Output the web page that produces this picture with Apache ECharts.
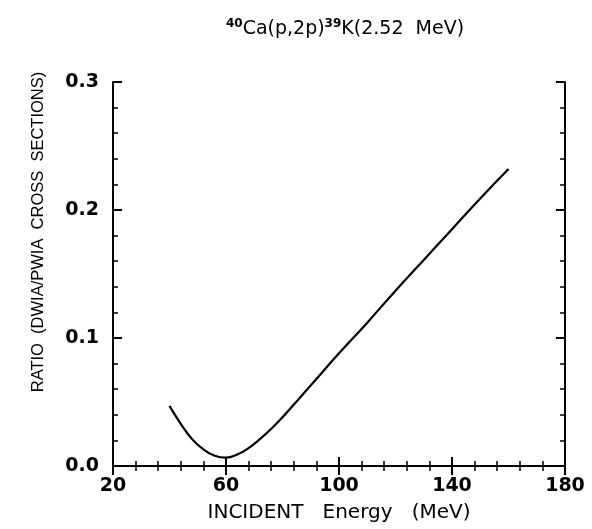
<!DOCTYPE html>
<html>
<head>
<meta charset="utf-8">
<script src="https://cdn.jsdelivr.net/npm/echarts@6/dist/echarts.min.js"></script>
<style>html,body{margin:0;padding:0;background:#fff}#c{width:592px;height:529px}</style>
</head>
<body>
<div id="c"></div>
<script>
const energy = [40, 44, 48, 52, 56, 60, 64, 68, 72, 76, 80, 86, 90, 100, 110, 120, 130, 140, 150, 160];
const ratio  = [0.047, 0.033, 0.021, 0.013, 0.008, 0.0065, 0.009, 0.014, 0.021, 0.029, 0.038, 0.053, 0.063, 0.088, 0.112, 0.137, 0.161, 0.185, 0.209, 0.232];
const xTicks = [20, 60, 100, 140, 180];
const yTicks = ['0.0', '0.1', '0.2', '0.3'];

const chart = echarts.init(document.getElementById('c'));
const axisLine = { show: true, lineStyle: { color: '#000', width: 2 } };
const tickFont = { color: '#000', fontSize: 19, fontWeight: 'bold', fontFamily: 'DejaVu Sans, sans-serif' };

const xBase = {
  type: 'value', min: 20, max: 180, interval: 40,
  axisLine: axisLine,
  axisTick: { show: true, inside: true, length: 9, lineStyle: { color: '#000', width: 2 } },
  minorTick: { show: true, splitNumber: 5, length: 5, lineStyle: { color: '#000', width: 1.5 } },
  splitLine: { show: false }
};
const yBase = {
  type: 'value', min: 0, max: 0.3, interval: 0.1,
  axisLine: axisLine,
  axisTick: { show: true, inside: true, length: 9, lineStyle: { color: '#000', width: 2 } },
  minorTick: { show: true, splitNumber: 5, length: 5, lineStyle: { color: '#000', width: 1.5 } },
  splitLine: { show: false }
};

chart.setOption({
  animation: false,
  backgroundColor: '#fff',
  title: {
    text: '{sup|40}{t|Ca(p,2p)}{sup|39}{t|K(2.52  MeV)}',
    left: 340, top: 10, textAlign: 'center',
    textStyle: {
      rich: {
        t: { fontSize: 19, fontWeight: 'normal', color: '#000', fontFamily: 'DejaVu Sans, sans-serif', verticalAlign: 'bottom', lineHeight: 24 },
        sup: { fontSize: 12, fontWeight: 'bold', color: '#000', fontFamily: 'DejaVu Sans, sans-serif', verticalAlign: 'top', lineHeight: 24, padding: [3, 0, 0, 0] }
      }
    }
  },
  grid: { left: 113, right: 27, top: 82, bottom: 63, containLabel: false, outerBoundsMode: 'none' },
  xAxis: [
    Object.assign({}, xBase, {
      position: 'bottom',
      name: 'INCIDENT   Energy   (MeV)', nameLocation: 'middle', nameGap: 37,
      nameTextStyle: { color: '#000', fontSize: 20, fontFamily: 'DejaVu Sans, sans-serif' },
      axisLabel: Object.assign({ margin: 11, formatter: v => xTicks.includes(v) ? String(v) : '' }, tickFont)
    }),
    Object.assign({}, xBase, { position: 'top', axisLabel: { show: false } })
  ],
  yAxis: [
    Object.assign({}, yBase, {
      position: 'left',
      name: 'RATIO  (DWIA/PWIA  CROSS  SECTIONS)', nameLocation: 'middle', nameGap: 66,
      nameTextStyle: { color: '#000', fontSize: 16.5, fontFamily: 'Liberation Sans, Arial, sans-serif', padding: [0, 0, 0, 84] },
      axisLabel: Object.assign({ margin: 14, formatter: v => yTicks[Math.round(v * 10)] }, tickFont)
    }),
    Object.assign({}, yBase, { position: 'right', axisLabel: { show: false } })
  ],
  series: [{
    type: 'line', smooth: true, showSymbol: false,
    data: energy.map((e, i) => [e, ratio[i]]),
    lineStyle: { color: '#000', width: 2.2 }
  }]
});
</script>
</body>
</html>
